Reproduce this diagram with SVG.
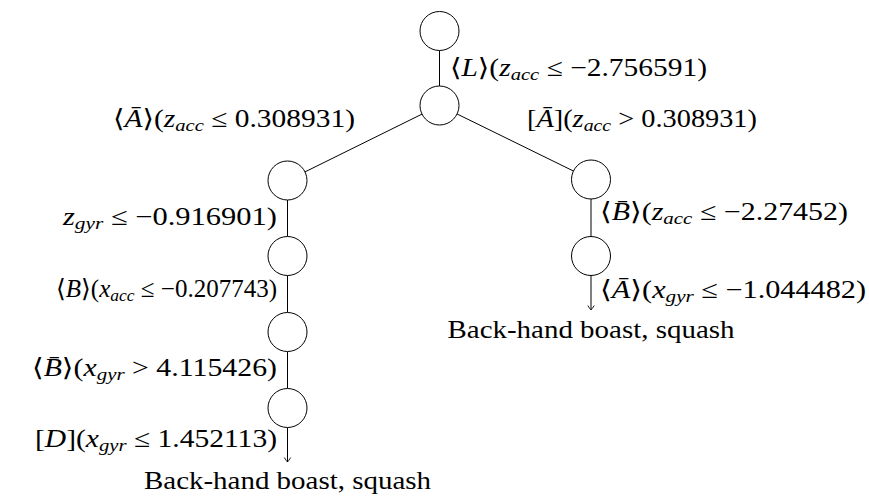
<svg xmlns="http://www.w3.org/2000/svg" width="869" height="499" viewBox="0 0 869 499">
<style>
.nd{fill:#fff;stroke:#000;stroke-width:1}
.ed{fill:none;stroke:#000;stroke-width:1}
.t{font-family:"Liberation Serif","Times New Roman",serif;font-size:25px;fill:#000}
.i{font-style:italic}
.s{font-style:italic;font-size:17.5px}
.ab{font-family:"DejaVu Serif","DejaVu Sans",serif}
</style>
<defs>
<marker id="arr" markerUnits="userSpaceOnUse" markerWidth="12" markerHeight="12" refX="0" refY="0" viewBox="-6 -6 12 12" orient="auto" overflow="visible">
<path d="M-4.5,-3.2 C-2.2,-1.8 -0.7,-0.6 0,0 C-0.7,0.6 -2.2,1.8 -4.5,3.2" fill="none" stroke="#000" stroke-width="0.9"/>
</marker>
</defs>
<rect width="869" height="499" fill="#fff"/>
<g id="connectors">
<line class="ed" x1="439.5" y1="50.5" x2="439.5" y2="86"/>
<line class="ed" x1="422" y1="114.1" x2="305" y2="171.9"/>
<line class="ed" x1="457.1" y1="114" x2="573.4" y2="171"/>
<line class="ed" x1="287.5" y1="200" x2="287.5" y2="236.5"/>
<line class="ed" x1="287.5" y1="275.5" x2="287.5" y2="312.5"/>
<line class="ed" x1="287.5" y1="351.5" x2="287.5" y2="388.5"/>
<line class="ed" x1="287.5" y1="427.5" x2="287.5" y2="462" marker-end="url(#arr)"/>
<line class="ed" x1="591" y1="199" x2="591" y2="236.5"/>
<line class="ed" x1="591" y1="275.5" x2="591" y2="310" marker-end="url(#arr)"/>
</g>
<g id="n0"><circle class="nd" cx="439.5" cy="31" r="19.5"/></g>
<g id="n1"><circle class="nd" cx="439.5" cy="105.5" r="19.5"/></g>
<g id="n2"><circle class="nd" cx="287.5" cy="180.5" r="19.5"/></g>
<g id="n3"><circle class="nd" cx="287.5" cy="256" r="19.5"/></g>
<g id="n4"><circle class="nd" cx="287.5" cy="332" r="19.5"/></g>
<g id="n5"><circle class="nd" cx="287.5" cy="408" r="19.5"/></g>
<g id="n6"><circle class="nd" cx="591" cy="179.5" r="19.5"/></g>
<g id="n7"><circle class="nd" cx="591" cy="256" r="19.5"/></g>
<g id="labels">
<text class="t" x="450" y="76" textLength="257" lengthAdjust="spacingAndGlyphs"><tspan class="ab">⟨</tspan><tspan class="i">L</tspan><tspan class="ab">⟩</tspan>(<tspan class="i">z</tspan><tspan class="s" dy="4">acc</tspan><tspan dy="-4"> ≤ −2.756591)</tspan></text>
<text class="t" x="113" y="127" textLength="242" lengthAdjust="spacingAndGlyphs"><tspan class="ab">⟨</tspan><tspan class="i">Ā</tspan><tspan class="ab">⟩</tspan>(<tspan class="i">z</tspan><tspan class="s" dy="4">acc</tspan><tspan dy="-4"> ≤ 0.308931)</tspan></text>
<text class="t" x="527" y="127" textLength="230" lengthAdjust="spacingAndGlyphs">[<tspan class="i">Ā</tspan>](<tspan class="i">z</tspan><tspan class="s" dy="4">acc</tspan><tspan dy="-4"> &gt; 0.308931)</tspan></text>
<text class="t" x="63" y="225" textLength="214" lengthAdjust="spacingAndGlyphs"><tspan class="i">z</tspan><tspan class="s" dy="4">gyr</tspan><tspan dy="-4"> ≤ −0.916901)</tspan></text>
<text class="t" x="56" y="297" textLength="221" lengthAdjust="spacingAndGlyphs"><tspan class="ab">⟨</tspan><tspan class="i">B</tspan><tspan class="ab">⟩</tspan>(<tspan class="i">x</tspan><tspan class="s" dy="4">acc</tspan><tspan dy="-4"> ≤ −0.207743)</tspan></text>
<text class="t" x="32" y="376" textLength="245" lengthAdjust="spacingAndGlyphs"><tspan class="ab">⟨</tspan><tspan class="i">B̄</tspan><tspan class="ab">⟩</tspan>(<tspan class="i">x</tspan><tspan class="s" dy="4">gyr</tspan><tspan dy="-4"> &gt; 4.115426)</tspan></text>
<text class="t" x="35" y="447" textLength="242" lengthAdjust="spacingAndGlyphs">[<tspan class="i">D</tspan>](<tspan class="i">x</tspan><tspan class="s" dy="4">gyr</tspan><tspan dy="-4"> ≤ 1.452113)</tspan></text>
<text class="t" x="600" y="220" textLength="248" lengthAdjust="spacingAndGlyphs"><tspan class="ab">⟨</tspan><tspan class="i">B̄</tspan><tspan class="ab">⟩</tspan>(<tspan class="i">z</tspan><tspan class="s" dy="4">acc</tspan><tspan dy="-4"> ≤ −2.27452)</tspan></text>
<text class="t" x="600" y="298" textLength="266" lengthAdjust="spacingAndGlyphs"><tspan class="ab">⟨</tspan><tspan class="i">Ā</tspan><tspan class="ab">⟩</tspan>(<tspan class="i">x</tspan><tspan class="s" dy="4">gyr</tspan><tspan dy="-4"> ≤ −1.044482)</tspan></text>
</g>
<g id="leaf1"><text class="t" x="144" y="489" textLength="287" lengthAdjust="spacingAndGlyphs">Back-hand boast, squash</text></g>
<g id="leaf2"><text class="t" x="447.5" y="338" textLength="287" lengthAdjust="spacingAndGlyphs">Back-hand boast, squash</text></g>
</svg>
